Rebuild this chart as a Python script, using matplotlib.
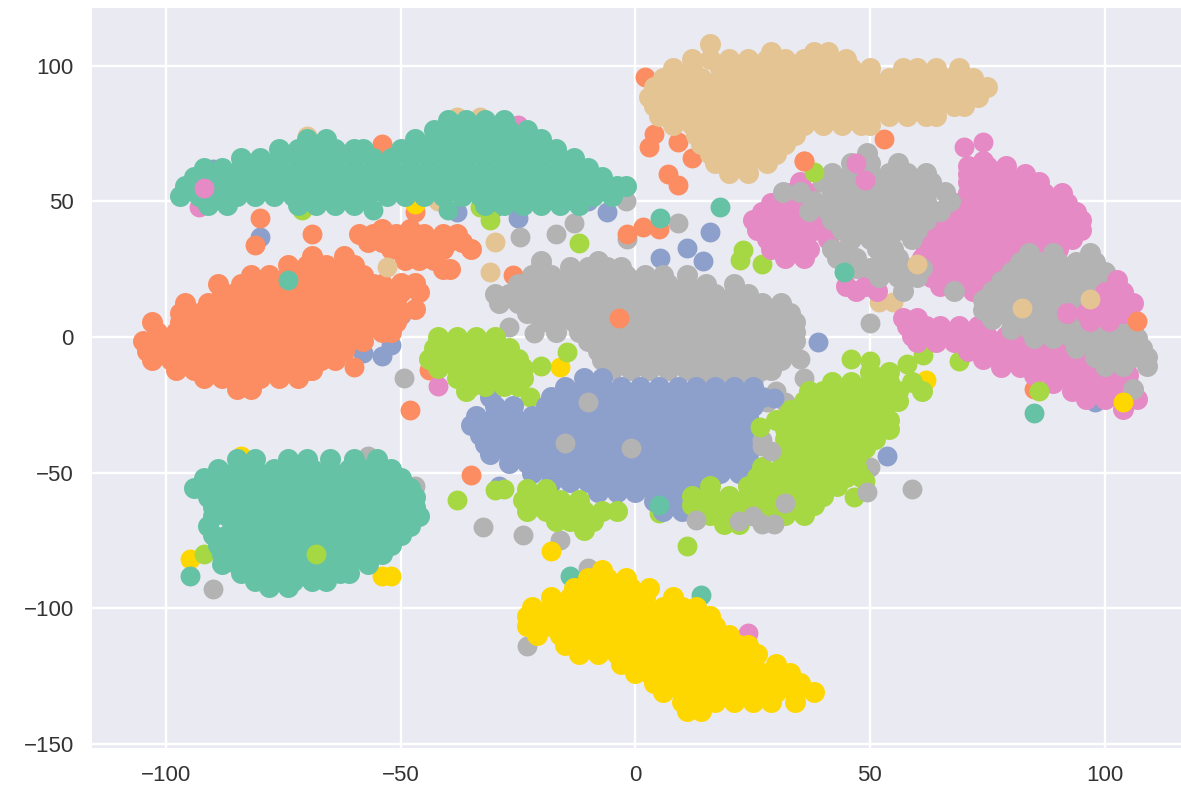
import matplotlib
matplotlib.use('Agg')
import matplotlib.pyplot as plt

# points, one (y, [x, ...]) row at a time
teal_top = [
    (80, [-40, -36, -32, -28]),
    (76.5, [-43, -39, -35, -31, -27, -23]),
    (73, [-70, -66, -47, -43, -39, -35, -31, -27, -23, -20]),
    (69.5, [-76, -72, -68, -64, -60, -58, -50, -45, -41, -37, -33, -29, -25, -21, -17]),
    (66, [-84, -80, -76, -72, -68, -64, -60, -56, -52, -48, -44, -40, -36, -32, -28, -24, -20, -16, -13]),
    (62.5, [-92, -88, -84, -80, -76, -72, -68, -64, -60, -56, -52, -48, -44, -40, -36, -32, -28, -24, -20, -16, -12, -10]),
    (59, [-94, -90, -86, -82, -78, -74, -70, -66, -62, -58, -54, -50, -46, -42, -38, -34, -30, -26, -22, -18, -14, -10, -7]),
    (55.5, [-96, -92, -88, -84, -80, -76, -72, -68, -64, -60, -56, -52, -48, -44, -40, -36, -32, -28, -24, -20, -16, -12, -8, -4, -2]),
    (52, [-97, -93, -89, -85, -81, -77, -73, -69, -65, -61, -57, -53, -49, -45, -41, -37, -33, -29, -25, -21, -17, -13, -9, -5]),
    (48.5, [-91, -87, -72, -68, -64, -60, -32, -28, -24, -20, -16, -12]),
]
orange_main = [
    (30, [-69, -62]),
    (26.5, [-74, -70, -66, -62, -60]),
    (23, [-82, -78, -74, -70, -66, -62, -58]),
    (19.5, [-89, -84, -80, -76, -72, -68, -64, -60, -56, -54]),
    (16, [-88, -86, -82, -78, -74, -70, -66, -62, -58, -54, -52]),
    (12.5, [-96, -91, -87, -83, -79, -75, -71, -67, -63, -59, -55, -51]),
    (9, [-97, -93, -89, -85, -81, -77, -73, -69, -65, -61, -57, -53, -50]),
    (5.5, [-103, -97, -93, -89, -85, -81, -77, -73, -69, -65, -61, -57, -53, -51]),
    (2, [-102, -98, -94, -90, -86, -82, -78, -74, -70, -66, -62, -58, -54, -52]),
    (-1.5, [-105, -101, -97, -93, -89, -85, -81, -77, -73, -69, -65, -61, -58]),
    (-5, [-104, -100, -96, -92, -88, -84, -80, -76, -72, -68, -64, -62]),
    (-8.5, [-103, -99, -95, -91, -87, -83, -79, -75, -71, -67, -64]),
    (-12, [-98, -94, -90, -86, -82, -78, -74, -70, -69]),
    (-15, [-92, -88, -84, -80, -76, -72]),
    (-19, [-85, -82]),
]
orange_spill = [
    (40, [-54, -48]),
    (38, [-59, -56, -51, -45, -41, -38]),
    (35, [-57, -54, -50, -46, -43, -40, -37]),
    (32.5, [-52, -49, -45, -41, -35]),
    (28.5, [-49, -46, -43]),
    (25, [-41, -39.5]),
    (20, [-50, -47]),
    (16.5, [-50, -46]),
    (10.5, [-47]),
]
gray_center = [
    (28, [-20, -8]),
    (26, [-20, -14, -10, -6, -3]),
    (23, [-22, -18, -14, -10, -6, -2, 2, 6, 11]),
    (19.5, [-25, -21, -17, -13, -9, -5, -1, 3, 7, 11, 15, 21]),
    (16, [-30, -27, -23, -19, -15, -11, -7, -3, 1, 5, 9, 13, 17, 21, 24]),
    (12.5, [-29, -25, -21, -17, -13, -9, -5, -1, 3, 7, 11, 15, 19, 23, 27, 31]),
    (9, [-23, -19, -15, -11, -7, -3, 1, 5, 9, 13, 17, 21, 25, 29, 33]),
    (5.5, [-20, -17, -13, -9, -5, -1, 3, 7, 11, 15, 19, 23, 27, 31, 34]),
    (2, [-17, -12, -8, -4, 0, 4, 8, 12, 16, 20, 24, 28, 32, 34]),
    (-1.5, [-10, -6, -2, 2, 6, 10, 14, 18, 22, 26, 30, 34]),
    (-5, [-8, -4, 0, 4, 8, 12, 16, 20, 24, 28, 33]),
    (-8.5, [-7, -2, 2, 6, 10, 14, 18, 22, 26, 31]),
    (-12, [-5, -1, 3, 7, 11, 15, 19, 23, 27, 29]),
    (-15.5, [14, 18, 22, 25]),
]
blue_main = [
    (-15, [-11, -7]),
    (-18.5, [-15, -11, -7, -3, 1, 5, 9, 13, 17, 21, 25]),
    (-22, [-31, -18, -14, -10, -6, -2, 2, 6, 10, 14, 18, 22, 27]),
    (-25.5, [-30, -26, -19, -15, -11, -7, -3, 1, 5, 9, 13, 17, 21, 25]),
    (-29, [-34, -30, -26, -22, -18, -14, -10, -6, -2, 2, 6, 10, 14, 18, 22, 24]),
    (-32.5, [-35, -31, -27, -23, -19, -15, -11, -7, -3, 1, 5, 9, 13, 17, 21, 24]),
    (-36, [-33, -29, -25, -21, -17, -13, -9, -5, -1, 3, 7, 11, 15, 19, 23, 24]),
    (-39.5, [-32, -28, -24, -20, -16, -12, -8, -4, 0, 4, 8, 12, 16, 20, 24]),
    (-43, [-31, -27, -23, -19, -15, -11, -7, -3, 1, 5, 9, 13, 17, 21, 24]),
    (-46.5, [-27, -23, -19, -15, -11, -7, -3, 1, 5, 9, 13, 17, 21, 24]),
    (-50, [-22, -18, -14, -10, -6, -2, 2, 6, 10, 14, 18, 22]),
    (-53.5, [-18, -14, -10, -6, -2, 2, 6, 10, 14, 16]),
    (-57, [-8, -4, 0, 4, 8, 12]),
    (-60.5, [4, 8, 12]),
    (-64, [6, 10]),
]
green_upper = [
    (0, [-42, -38, -34, -30]),
    (-4, [-43, -39, -35, -31, -27]),
    (-8, [-44, -40, -36, -32, -28, -25]),
    (-11.5, [-42, -38, -34, -30, -26, -24]),
    (-15, [-38, -34, -30, -26, -24]),
    (-18, [-35, -32, -28, -25]),
    (-20, [-36]),
]
green_lower = [
    (-13, [50, 54]),
    (-16.5, [42, 46, 50, 54, 59]),
    (-20, [37, 40, 44, 48, 52, 56, 61]),
    (-23.5, [36, 40, 44, 48, 52, 56]),
    (-27, [33, 37, 41, 45, 49, 53]),
    (-30.5, [30, 34, 38, 42, 46, 50, 54]),
    (-34, [32, 36, 40, 44, 48, 52, 54]),
    (-37.5, [32, 35, 39, 43, 47, 51]),
    (-41, [33, 37, 41, 45, 49]),
    (-44.5, [32, 35, 39, 43, 47]),
    (-48, [27, 31, 35, 39, 43, 47]),
    (-51.5, [26, 29, 33, 37, 41, 45, 48]),
    (-55, [16, 24, 28, 32, 36, 40, 43]),
    (-58.5, [12, 16, 20, 24, 28, 32, 36, 40]),
    (-62, [12, 15, 18, 22, 26, 30, 34, 38]),
    (-65.5, [16, 20, 24, 28, 32, 36]),
    (-69, [19, 22]),
    (-56, [-23, -19]),
    (-60, [-24, -20, -16, -12]),
    (-64, [-23, -19, -15, -11, -7, -4]),
    (-68, [-17, -14, -9]),
    (-71, [-11]),
]
yellow_main = [
    (-86, [-7]),
    (-89, [-10, -6, -2]),
    (-92.5, [-13, -9, -5, -1, 3]),
    (-96, [-18, -14, -10, -6, -2, 2, 8]),
    (-99.5, [-22, -18, -14, -10, -6, -2, 2, 6, 10, 13]),
    (-103, [-23, -20, -16, -12, -8, -4, 0, 4, 8, 12, 16]),
    (-106.5, [-23, -18, -14, -10, -6, -2, 2, 6, 10, 14, 17]),
    (-110, [-21, -16, -12, -8, -4, 0, 4, 8, 12, 16, 20]),
    (-113.5, [-15, -10, -6, -2, 2, 6, 10, 14, 18, 22, 24]),
    (-117, [-12, -8, -4, 0, 4, 8, 12, 16, 20, 24, 26]),
    (-120.5, [-3, 1, 5, 9, 13, 17, 21, 25, 30]),
    (-124, [0, 3, 7, 11, 15, 19, 23, 27, 31, 33]),
    (-127.5, [4, 8, 12, 16, 20, 24, 28, 32, 35]),
    (-131, [6, 10, 14, 18, 22, 26, 30, 34, 38]),
    (-134.5, [10, 13, 17, 21, 25, 29, 34]),
    (-138, [11, 14]),
]
teal_bottom = [
    (-45, [-85, -81, -74, -70, -65, -60, -55]),
    (-48.5, [-89, -85, -81, -77, -73, -69, -65, -61, -57, -52]),
    (-52, [-92, -87, -83, -79, -75, -71, -67, -63, -59, -55, -50]),
    (-55.5, [-94, -90, -85, -81, -77, -73, -69, -65, -61, -57, -53, -48]),
    (-59, [-91, -87, -83, -79, -75, -71, -67, -63, -59, -55, -51, -47]),
    (-62.5, [-90, -85, -81, -77, -73, -69, -65, -61, -57, -53, -49, -47]),
    (-66, [-90, -87, -83, -79, -75, -71, -67, -63, -59, -55, -51, -46]),
    (-69.5, [-91, -85, -81, -77, -73, -69, -65, -61, -57, -53, -48]),
    (-73, [-90, -87, -83, -79, -75, -71, -67, -63, -59, -55, -50]),
    (-76.5, [-89, -85, -81, -77, -73, -69, -65, -61, -57, -52]),
    (-80, [-88, -83, -79, -75, -71, -67, -63, -59, -54]),
    (-83.5, [-88, -85, -81, -77, -73, -69, -65, -61, -57]),
    (-87, [-84, -79, -75, -71, -67, -63, -61]),
    (-90, [-81, -77, -73, -69, -66]),
    (-92, [-78, -74]),
]
tan_main = [
    (108, [16]),
    (105, [29, 38, 41]),
    (102.5, [12, 16, 20, 24, 28, 32, 36, 40, 45]),
    (99, [8, 12, 18, 22, 26, 30, 34, 38, 42, 46, 50, 57, 60, 64, 69]),
    (95.5, [6, 10, 14, 18, 22, 26, 30, 34, 38, 42, 46, 50, 54, 58, 62, 66, 70, 72]),
    (92, [4, 8, 12, 16, 20, 24, 28, 32, 36, 40, 44, 48, 52, 56, 60, 64, 68, 72, 75]),
    (88.5, [3, 6, 10, 14, 18, 22, 26, 30, 34, 38, 42, 46, 50, 54, 58, 62, 66, 70, 73]),
    (85, [4, 8, 12, 16, 20, 24, 28, 32, 36, 40, 44, 48, 52, 56, 60, 64, 68, 70]),
    (81.5, [5, 10, 14, 18, 22, 26, 30, 34, 38, 42, 46, 50, 54, 58, 62, 64]),
    (78, [8, 12, 16, 20, 24, 28, 32, 36, 40, 44, 48, 50]),
    (74.5, [13, 18, 22, 26, 30, 34]),
    (71, [14, 16, 20, 24, 28, 32]),
    (67.5, [16, 18, 22, 26, 30]),
    (64, [17, 20, 24, 28]),
    (60.5, [20, 24]),
]
pink_main = [
    (65, [74]),
    (63, [71, 75, 79]),
    (60, [71, 75, 79, 83]),
    (57, [35, 71, 74, 78, 82, 86]),
    (53, [33, 37, 71, 75, 79, 83, 87, 91]),
    (49.5, [29, 33, 37, 69, 73, 77, 81, 85, 89, 92]),
    (46, [27, 31, 35, 39, 67, 71, 75, 79, 83, 87, 91, 94]),
    (43, [25, 29, 33, 37, 41, 65, 69, 73, 77, 81, 85, 89, 93, 95]),
    (39.5, [26, 30, 34, 38, 41, 64, 68, 72, 76, 80, 84, 88, 92, 95]),
    (36, [28, 32, 36, 41, 63, 67, 71, 75, 79, 83, 87, 91, 93]),
    (32.5, [29, 33, 37, 62, 66, 70, 74, 78, 82, 86, 90]),
    (29, [32, 36, 61, 65, 69, 73, 77, 81, 85]),
    (25.5, [62, 66, 70, 74, 78, 82]),
    (22, [63, 67, 71, 75, 78]),
    (19, [45, 49, 65, 69, 73]),
    (17, [47, 51.5, 72]),
    (7, [57, 60]),
    (4, [58, 62, 65, 69, 73]),
    (0.5, [59, 63, 67, 71, 75, 79, 83]),
    (-2, [60, 64, 68, 72, 76, 80, 84, 88]),
    (-5, [71, 75, 79, 83, 87, 91, 95]),
    (-8, [74, 78, 82, 86, 90, 94, 98]),
    (-11, [78, 82, 86, 90, 94, 98, 102]),
    (-14, [85, 89, 93, 97, 101, 105]),
    (-17, [89, 93, 97, 101, 105]),
    (-20, [93, 97, 101, 105]),
    (-23, [96, 100, 104, 107]),
    (-26.5, [104]),
]
gray_right = [
    (68, [49.4]),
    (64, [46, 50, 56]),
    (60.5, [42, 46, 50, 54, 58, 62]),
    (57, [40, 44, 48, 52, 56, 60, 63]),
    (53.5, [31.5, 35, 42, 46, 50, 54, 58, 62, 66]),
    (50, [38, 42, 46, 50, 54, 58, 62, 67]),
    (46.5, [37, 41, 45, 49, 53, 57, 61, 65]),
    (43, [42, 46, 50, 54, 58, 62]),
    (39.5, [44, 48, 52, 56, 60]),
    (36, [46, 50, 54, 59]),
    (32.5, [42, 45, 51.5, 55]),
    (29, [43, 47, 53, 56]),
    (25.5, [47, 50, 54, 58, 61]),
    (22, [52, 56, 60]),
    (17, [57, 68]),
    (31, [84, 89, 97]),
    (27.5, [82, 86, 90, 94, 98]),
    (24, [80, 84, 88, 92, 96, 100]),
    (20.5, [78, 82, 86, 90, 94, 98]),
    (17, [76, 80, 84, 88, 92, 96]),
    (13.5, [74, 78, 82, 86, 90, 94, 98]),
    (10, [74, 77, 81, 85, 89, 93]),
    (6.5, [76, 80, 84, 88, 92, 96, 100, 105]),
    (3, [80, 84, 88, 92, 96, 100, 104, 106]),
    (-0.5, [85, 89, 93, 97, 101, 105, 107]),
    (-4, [94, 98, 102, 106, 108]),
    (-7.5, [98, 102, 106, 109]),
    (-10.5, [100, 104, 109]),
    (-19, [106]),
]
pink_right_top = [
    (21, [102.6]),
    (16.5, [100, 104]),
    (12.5, [98, 102, 106]),
    (9, [92, 96, 100, 104]),
    (6, [97, 101]),
]

# stray points scattered between the clusters, drawn under the clusters
stray_blue = [(-38, 46), (-25, 44), (-10, 50), (-6, 46), (-15, 60), (-50, 8), (-58, -6), (-54, -7), (-52, -3), (5.3, 29),
              (11, 33), (14.5, 28), (16, 38.7), (39, -2), (-29, -55), (-80, 37), (43, -54.6), (-90, 62), (98, -24)]
stray_gray = [(-60, 60), (-24.5, 37), (-17, 38), (-13, 42), (-2, 50), (-27, 3.7), (-21.5, 1.5), (9, 42), (-1.7, 36),
              (-49.4, -15), (-32.5, -70), (-24, -73), (-16, -75), (-10, -85), (-57, -44), (-47, -55), (-54, -80), (-90, -93),
              (-23, -114), (59, -56), (50, -48), (28, -24), (50, 5), (35, -8), (36, -15), (30, -20), (32, -24), (43, -52)]
stray_orange = [(-80, 44), (-81, 34), (-69, 38), (-48, -27), (-35, -51), (2, 96), (1.7, 40.6), (5, 40), (-1.7, 38), (4, 75),
                (3, 70), (9, 72), (13, 82), (7, 60), (9, 56), (12, 66), (36, 65), (53, 73), (-60, -11), (-47, 46),
                (85, -19), (-26, 23), (-44, -12), (-54, 71)]
stray_green = [(-31, 43), (-33, 48), (-12, 34.6), (-20, -10.5), (-14.6, -5.5), (-22.4, -22), (-38, -60), (-30, -56.5),
               (-28, -56), (23, 32), (27, 27), (22.4, 28.4), (11, -77), (46.5, -59), (49, -53), (46, -8), (50, -9), (58, -10),
               (61.4, -6.8), (69, -9), (-68, -80), (5, -65), (-71, 47), (-92, -80)]
stray_yellow = [(-18, -79), (-16, -11), (-54, -88), (-52, -88), (-50, -71), (-84, -44), (62, -16), (-95, -82), (-47, 49)]
stray_teal = [(-95, -88), (85, -28), (5.3, 44), (18, 48), (-14, -88), (8, -97), (-40, 47), (-30, 48), (-56, 47), (14, -95)]
stray_pink = [(-42, -18), (24, -109), (70, 70), (74, 72), (-25, 78), (-63, -52), (-94, 58), (-93, 48)]
stray_tan = [(-30, 35), (-31, 24), (-42, 50), (55, 13), (-70, 74), (-38, 81), (-33, 81), (52, 13)]

# marks that sit on top of the clusters
top_gray = [(-15, -39), (-1, -41), (-10, -24), (27, -40), (29, -42), (27, -38), (13, -67.5), (22, -68), (27, -69), (29.5, -69),
            (25, -66), (32, -61), (49.4, -57)]
top_blue = [(29.5, -22.6), (53.6, -44)]
top_pink = [(-92, 55), (47, 64), (49, 58)]
top_tan = [(-53, 26), (60, 27), (82.4, 10.7), (97, 14)]
top_teal = [(44.5, 24), (-74, 21), (5, -62)]
top_green = [(38, 61), (-68, -80), (26.6, -33), (86, -20)]
top_orange = [(-3.5, 7), (36, 65), (107, 6)]
top_yellow = [(104, -24)]

palette = {'teal': '#66c2a5', 'orange': '#fc8d62', 'blue': '#8da0cb', 'pink': '#e58ac4',
           'green': '#a6d844', 'yellow': '#ffd700', 'tan': '#e5c494', 'gray': '#b3b3b3'}


def draw_rows(ax, rows, color):
    xs, ys = [], []
    for y, row in rows:
        xs += row
        ys += [y] * len(row)
    ax.scatter(xs, ys, s=228, c=palette[color], linewidths=0)


def draw_points(ax, points, color):
    xs = [p[0] for p in points]
    ys = [p[1] for p in points]
    ax.scatter(xs, ys, s=205, c=palette[color], linewidths=0)


def create_plot():
    plt.rcParams['font.family'] = ['Liberation Sans', 'DejaVu Sans']
    fig = plt.figure(figsize=(11.81, 7.89), dpi=100, facecolor='white')
    ax = fig.add_axes([92 / 1181, 1 - 748 / 789, (1181 - 92) / 1181, 740 / 789], facecolor='#eaeaf2')

    draw_points(ax, stray_blue, 'blue')
    draw_points(ax, stray_gray, 'gray')
    draw_points(ax, stray_orange, 'orange')
    draw_points(ax, stray_tan, 'tan')
    draw_points(ax, stray_pink, 'pink')
    draw_points(ax, stray_yellow, 'yellow')
    draw_points(ax, stray_teal, 'teal')
    draw_points(ax, stray_green, 'green')

    draw_rows(ax, orange_spill, 'orange')
    draw_rows(ax, gray_center, 'gray')
    draw_rows(ax, blue_main, 'blue')
    draw_rows(ax, green_upper, 'green')
    draw_rows(ax, green_lower, 'green')
    draw_rows(ax, pink_main, 'pink')
    draw_rows(ax, gray_right, 'gray')
    draw_rows(ax, pink_right_top, 'pink')
    draw_rows(ax, tan_main, 'tan')
    draw_rows(ax, orange_main, 'orange')
    draw_rows(ax, teal_top, 'teal')
    draw_rows(ax, teal_bottom, 'teal')
    draw_rows(ax, yellow_main, 'yellow')

    draw_points(ax, top_gray, 'gray')
    draw_points(ax, top_blue, 'blue')
    draw_points(ax, top_pink, 'pink')
    draw_points(ax, top_tan, 'tan')
    draw_points(ax, top_teal, 'teal')
    draw_points(ax, top_green, 'green')
    draw_points(ax, top_orange, 'orange')
    draw_points(ax, top_yellow, 'yellow')

    ax.set_xlim(-115.8, 116.3)
    ax.set_ylim(-151.5, 121.3)
    ax.set_xticks([-100, -50, 0, 50, 100])
    ax.set_yticks([-150, -100, -50, 0, 50, 100])
    ax.grid(True, color='white', linewidth=1.7)
    ax.set_axisbelow(True)
    ax.tick_params(length=0, labelsize=16, labelcolor='#333333')
    ax.tick_params(axis='x', pad=12.5)
    ax.tick_params(axis='y', pad=13)
    for spine in ax.spines.values():
        spine.set_visible(False)

    fig.savefig('out.png', dpi=100)


if __name__ == "__main__":
    create_plot()
